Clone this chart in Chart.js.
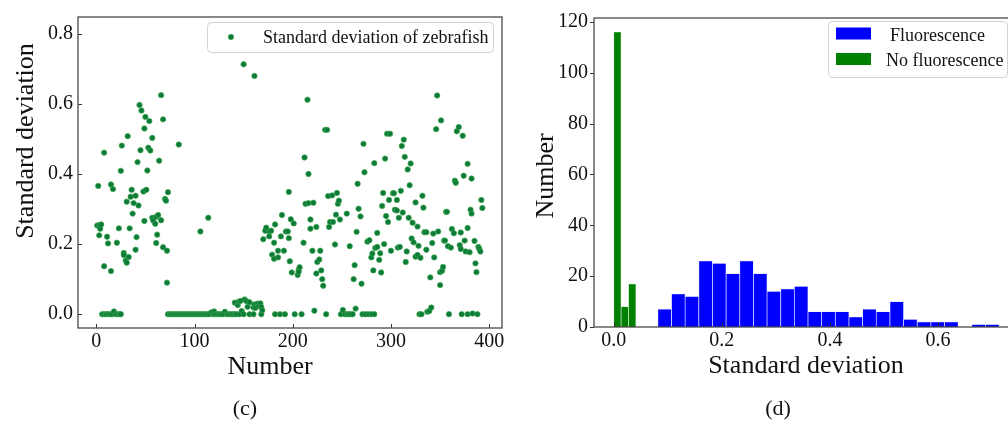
<!DOCTYPE html>
<html>
<head>
<meta charset="utf-8">
<script src="https://cdn.jsdelivr.net/npm/chart.js@4.4.0/dist/chart.umd.min.js"></script>
<style>
  html, body { margin: 0; padding: 0; background: #fff; }
  body { width: 1008px; height: 423px; overflow: hidden; position: relative; font-family: "Liberation Serif", "Times New Roman", serif; }
  canvas { position: absolute; top: 0; }
  #scatter { left: 0; }
  #hist { left: 510px; }
  .caption { position: absolute; top: 396px; width: 60px; text-align: center; font-size: 22px; line-height: 24px; color: #111; }
</style>
</head>
<body>
<canvas id="scatter" width="510" height="400"></canvas>
<canvas id="hist" width="520" height="400"></canvas>
<div class="caption" style="left:215px">(c)</div>
<div class="caption" style="left:748px">(d)</div>
<script>
// ---- values ----

// (c) one standard deviation per zebrafish: [number, std]
const zebrafishStd = [
  [1,0.253],[2,0.366],[3,0.254],[3,0.225],[4,0.244],[5,0.256],[6,0],[8,0],[8,0.461],[8,0.137],
  [10,0],[11,0.221],[12,0],[12,0.202],[14,0],[15,0.370],[15,0.123],[16,0],[17,0.357],[18,0.008],
  [20,0],[21,0.204],[22,0],[23,0.245],[24,0],[25,0.409],[25,0],[26,0.481],[28,0.175],[28,0.169],
  [30,0.153],[31,0.321],[31,0.147],[32,0.508],[33,0.163],[34,0.245],[35,0.335],[36,0.355],[37,0.287],[38,0.317],
  [40,0.338],[40,0.184],[41,0.220],[42,0.434],[43,0.310],[44,0.597],[45,0.468],[46,0.581],[48,0.350],[49,0.530],
  [49,0.266],[50,0.563],[51,0.355],[52,0.410],[53,0.475],[54,0.551],[55,0.467],[57,0.503],[57,0.275],[58,0.267],
  [60,0.258],[61,0.278],[61,0.203],[62,0.227],[63,0.283],[64,0.438],[66,0.625],[66,0.268],[68,0.556],[68,0.191],
  [70,0.329],[71,0.324],[72,0.181],[72,0.090],[73,0.348],[84,0.484],[106,0.236],[114,0.275],
  [73,0],[75,0],[77,0],[79,0],[81,0],[83,0],[85,0],[87,0],[89,0],[91,0],[93,0],[95,0],[97,0],[99,0],
  [101,0],[103,0],[105,0],[107,0],[109,0],[111,0],[113,0],[115,0],[117,0.005],[119,0],[120,0.008],
  [121,0],[123,0],[125,0],[127,0],[129,0],[131,0.007],[133,0],[135,0],[137,0],[139,0],
  [141,0.033],[141,0],[143,0],[144,0.026],[145,0.036],[146,0],[147,0.038],[148,0.009],[150,0.713],[150,0],
  [151,0.042],[153,0.037],[154,0.021],[156,0.034],[156,0],[160,0.019],[160,0],[161,0.028],[161,0.680],[162,0.018],
  [164,0.030],[165,0.023],[167,0.031],[168,0.021],[168,0],[169,0.011],
  [170,0.214],[172,0.238],[173,0.247],[176,0.236],[176,0.222],[178,0.238],[179,0.170],[181,0.204],[181,0.158],[182,0.256],
  [182,0],[185,0.181],[185,0.162],[187,0],[188,0.222],[189,0.283],[191,0.181],[192,0],[193,0.236],[195,0.236],
  [196,0.217],[196,0.349],[197,0.151],[198,0.271],[199,0.119],[201,0.259],[202,0],[205,0.112],[206,0.126],[206,0.121],
  [207,0.134],[209,0],[211,0.204],[212,0.447],[213,0.315],[215,0.612],[216,0.400],[216,0.317],[218,0.270],[218,0.244],
  [220,0.181],[221,0.318],[222,0.010],[224,0.249],[224,0.116],[225,0.149],[227,0.156],[228,0.181],[229,0.125],[230,0.100],
  [231,0.081],[233,0.526],[234,0],[235,0.526],[236,0.337],[237,0.249],[238,0.263],[240,0.339],[241,0.263],[243,0.199],
  [244,0.284],[245,0.346],[246,0.315],[247,0.324],[248,0.270],[249,0],[251,0.012],[253,0],[255,0.287],[255,0],
  [257,0],[258,0.194],[259,0],[261,0],[262,0.100],[263,0.140],[264,0.016],[265,0.235],[266,0.372],[267,0.301],
  [269,0.279],[270,0.087],[272,0.486],[273,0.405],
  [271,0],[274,0],[276,0.207],[277,0],[278,0.211],[280,0],[280,0.162],[281,0.173],[282,0.125],[283,0.431],
  [283,0],[284,0.189],[286,0.232],[286,0.192],[288,0.155],[289,0.174],[290,0.119],[291,0.309],[292,0.346],[293,0.200],
  [294,0.444],[295,0.280],[296,0.515],[297,0.263],[298,0.326],[299,0.515],[300,0.181],[302,0.345],[303,0.345],[304,0.298],
  [306,0.326],[306,0.296],[307,0.190],[308,0.275],[309,0.192],[310,0.352],[311,0.480],[312,0.290],[313,0.498],[314,0.449],
  [315,0.149],[316,0.179],[317,0.413],[318,0.275],[319,0.368],[320,0.430],[321,0.216],[322,0.261],[323,0.205],[325,0.319],
  [325,0.164],[327,0.250],[327,0.169],[328,0.195],[329,0],[330,0.161],[331,0],[332,0.338],[333,0.304],[334,0.234],
  [336,0.234],[336,0.184],[337,0.007],[339,0.009],[340,0.105],[341,0.019],[342,0.203],[343,0.230],[344,0.162],[346,0.528],
  [347,0.624],[348,0.236],[350,0.120],[350,0.083],[351,0.553],[352,0.124],[353,0.135],[354,0.210],[355,0.210],[356,0.292],
  [357,0.292],[358,0.194],[359,0],[361,0.190],[362,0.243],[364,0.231],[365,0.381],[366,0.375],[367,0.522],[369,0.534],
  [370,0.197],[371,0.233],[371,0.186],[372,0],[373,0.509],[374,0.395],[375,0.210],[376,0.179],[378,0.429],[378,0.246],
  [378,0],[380,0.177],[381,0.298],[382,0.387],[382,0.287],[383,0.002],[385,0.209],[386,0.145],[387,0.120],[388,0],
  [389,0.192],[390,0.186],[391,0.179],[392,0.326],[393,0.303]
];

// (d) histogram: bin centres and counts
const fluorBins = [0.0943, 0.1196, 0.1448, 0.1701, 0.1953, 0.2206, 0.2458, 0.2711, 0.2963, 0.3216,
  0.3468, 0.3721, 0.3973, 0.4226, 0.4478, 0.4731, 0.4983, 0.5236, 0.5488, 0.5741,
  0.5993, 0.6246, 0.6498, 0.6751, 0.7003];
const fluorCounts = [7, 13, 12, 26, 25, 21, 26, 21, 14, 15, 16, 6, 6, 6, 4, 7, 6, 10, 3, 2, 2, 2, 0, 1, 1];
const noFluorBins = [0.0069, 0.0206, 0.0343];
const noFluorCounts = [116, 8, 17];

// tick labels
const scatterXTicks = [0, 100, 200, 300, 400];
const scatterYTicks = [0, 0.2, 0.4, 0.6, 0.8];
const histXTicks = [0, 0.2, 0.4, 0.6];
const histYTicks = [0, 20, 40, 60, 80, 100, 120];

const SERIF = '"Liberation Serif", "Times New Roman", serif';
Chart.defaults.font.family = SERIF;
Chart.defaults.color = '#111';

const dotFill = '#0c7a3b';
const dotEdge = '#3da84a';

function roundedBox(ctx, x, y, w, h, r) {
  ctx.beginPath();
  ctx.moveTo(x + r, y);
  ctx.lineTo(x + w - r, y);
  ctx.arcTo(x + w, y, x + w, y + r, r);
  ctx.lineTo(x + w, y + h - r);
  ctx.arcTo(x + w, y + h, x + w - r, y + h, r);
  ctx.lineTo(x + r, y + h);
  ctx.arcTo(x, y + h, x, y + h - r, r);
  ctx.lineTo(x, y + r);
  ctx.arcTo(x, y, x + r, y, r);
  ctx.closePath();
}

// frame, tick marks, axis titles and legend (matplotlib look)
const decorPlugin = {
  id: 'decor',
  afterDraw(chart, args, o) {
    const { ctx, chartArea: a, scales } = chart;
    ctx.save();

    ctx.strokeStyle = '#333';
    ctx.lineWidth = 1;
    scales.x.ticks.forEach(t => {
      const px = Math.round(scales.x.getPixelForValue(t.value)) + 0.5;
      ctx.beginPath(); ctx.moveTo(px, a.bottom); ctx.lineTo(px, a.bottom + o.xTick); ctx.stroke();
    });
    scales.y.ticks.forEach(t => {
      const py = Math.round(scales.y.getPixelForValue(t.value)) + 0.5;
      ctx.beginPath(); ctx.moveTo(a.left, py); ctx.lineTo(a.left + o.yTick, py); ctx.stroke();
    });

    ctx.strokeStyle = '#4a4a4a';
    ctx.lineWidth = 1.3;
    ctx.strokeRect(a.left, a.top, a.right - a.left, a.bottom - a.top);

    // axis titles
    ctx.fillStyle = '#111';
    ctx.font = '26px ' + SERIF;
    ctx.textAlign = 'center';
    ctx.textBaseline = 'alphabetic';
    ctx.fillText(o.xTitle.text, o.xTitle.x, o.xTitle.y);
    ctx.save();
    ctx.translate(o.yTitle.x, o.yTitle.y);
    ctx.rotate(-Math.PI / 2);
    ctx.fillText(o.yTitle.text, 0, 0);
    ctx.restore();

    // legend
    const L = o.legend;
    roundedBox(ctx, L.box[0] + 0.5, L.box[1] + 0.5, L.box[2], L.box[3], 4);
    ctx.fillStyle = 'rgba(255,255,255,0.85)';
    ctx.fill();
    ctx.strokeStyle = '#d2d2d2';
    ctx.lineWidth = 1;
    ctx.stroke();
    ctx.font = '18px ' + SERIF;
    ctx.textAlign = 'left';
    chart.data.datasets.forEach((ds, i) => {
      const row = L.rows[i];
      if (L.marker === 'dot') {
        ctx.beginPath();
        ctx.arc(L.markerX, row.my, 2.7, 0, Math.PI * 2);
        ctx.fillStyle = dotFill; ctx.fill();
        ctx.strokeStyle = dotEdge; ctx.lineWidth = 0.7; ctx.stroke();
      } else {
        ctx.fillStyle = ds.backgroundColor;
        ctx.fillRect(L.markerX, row.my - 6, 35, 12);
      }
      ctx.fillStyle = '#111';
      ctx.fillText(ds.label, row.tx, row.ty);
    });
    ctx.restore();
  }
};

const tickFont = { size: 20 };
const fixedTicks = list => scale => { scale.ticks = list.map(v => ({ value: v })); };

// (c) scatter
new Chart(document.getElementById('scatter'), {
  type: 'scatter',
  data: {
    datasets: [{
      label: 'Standard deviation of zebrafish',
      data: zebrafishStd.map(([n, s]) => ({ x: n, y: s })),
      backgroundColor: dotFill,
      borderColor: dotEdge,
      borderWidth: 0.7,
      pointRadius: 2.7,
      pointHoverRadius: 2.7
    }]
  },
  options: {
    responsive: false,
    animation: false,
    events: [],
    layout: { padding: { left: 0, top: 13, right: 8, bottom: 0 } },
    plugins: {
      legend: { display: false },
      tooltip: { enabled: false },
      decor: {
        xTick: -4, yTick: 4,
        xTitle: { text: 'Number', x: 270, y: 374 },
        yTitle: { text: 'Standard deviation', x: 33, y: 141 },
        legend: { box: [207, 22, 286, 30], marker: 'dot', markerX: 231, rows: [{ my: 37, tx: 263, ty: 42.5 }] }
      }
    },
    scales: {
      x: {
        type: 'linear', min: -18.6, max: 413,
        grid: { display: false, drawTicks: false }, border: { display: false },
        ticks: { font: tickFont, padding: 2, autoSkip: false, maxRotation: 0, callback: v => String(v) },
        afterBuildTicks: fixedTicks(scatterXTicks),
        afterFit: s => { s.height = 72; }
      },
      y: {
        type: 'linear', min: -0.0394, max: 0.848,
        grid: { display: false, drawTicks: false }, border: { display: false },
        ticks: { font: tickFont, padding: 5, autoSkip: false, callback: v => v.toFixed(1) },
        afterBuildTicks: fixedTicks(scatterYTicks),
        afterFit: s => { s.width = 78; }
      }
    }
  },
  plugins: [decorPlugin]
});

// (d) histogram
const xRange = { min: -0.0364, max: 0.746 };
new Chart(document.getElementById('hist'), {
  type: 'bar',
  data: {
    datasets: [{
      label: 'Fluorescence',
      data: fluorBins.map((b, i) => ({ x: b, y: fluorCounts[i] })),
      backgroundColor: '#0000ff',
      borderColor: 'rgba(215,215,255,0.9)',
      borderWidth: 0.7,
      grouped: false,
      barPercentage: 1, categoryPercentage: 1,
      xAxisID: 'x'
    }, {
      label: 'No fluorescence',
      data: noFluorBins.map((b, i) => ({ x: b, y: noFluorCounts[i] })),
      backgroundColor: '#008000',
      borderColor: 'rgba(200,230,200,0.9)',
      borderWidth: 0.7,
      grouped: false,
      barPercentage: 1, categoryPercentage: 1,
      xAxisID: 'x2'
    }]
  },
  options: {
    responsive: false,
    animation: false,
    events: [],
    layout: { padding: { left: 0, top: 12, right: 13, bottom: 0 } },
    plugins: {
      legend: { display: false },
      tooltip: { enabled: false },
      decor: {
        xTick: -4, yTick: -4,
        xTitle: { text: 'Standard deviation', x: 296, y: 372.7 },
        yTitle: { text: 'Number', x: 43, y: 176 },
        legend: {
          box: [318, 21, 179, 56], marker: 'rect', markerX: 326,
          rows: [{ my: 33.5, tx: 380, ty: 41 }, { my: 59, tx: 376, ty: 65.7 }]
        }
      }
    },
    scales: {
      x: {
        type: 'linear', ...xRange, offset: false,
        grid: { display: false, drawTicks: false }, border: { display: false },
        ticks: { font: tickFont, padding: 2, autoSkip: false, maxRotation: 0, callback: v => v.toFixed(1) },
        afterBuildTicks: fixedTicks(histXTicks),
        afterFit: s => { s.height = 73; }
      },
      x2: {
        type: 'linear', ...xRange, offset: false, display: false,
        afterBuildTicks: fixedTicks(histXTicks)
      },
      y: {
        type: 'linear', min: 0, max: 121.5,
        grid: { display: false, drawTicks: false }, border: { display: false },
        ticks: { font: tickFont, padding: 6, autoSkip: false, callback: v => String(v) },
        afterBuildTicks: fixedTicks(histYTicks),
        afterFit: s => { s.width = 84; }
      }
    }
  },
  plugins: [decorPlugin]
});
</script>
</body>
</html>
